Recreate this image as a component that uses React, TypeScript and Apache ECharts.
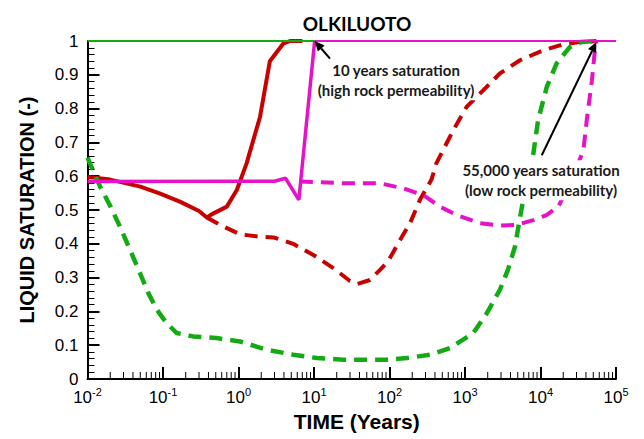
import React, { useEffect, useRef } from "react";
import * as echarts from "echarts";

// Liquid saturation in the buffer versus time (years), Olkiluoto case
const TITLE = "OLKILUOTO";
const X_MIN = 0.01;
const X_MAX = 1e5;
const Y_MIN = 0;
const Y_MAX = 1;
const Y_STEP = 0.1;

// [time (years), liquid saturation (-)]
const fullySaturated: [number, number][] = [
  [0.01, 1.0], [1e5, 1.0],
];

const redSolid: [number, number][] = [
  [0.01, 0.598], [0.02, 0.59], [0.05, 0.569], [0.09, 0.549], [0.17, 0.524],
  [0.3, 0.497], [0.38, 0.478], [0.44, 0.487], [0.7, 0.51], [0.95, 0.559],
  [1.28, 0.638], [1.93, 0.776], [2.6, 0.94], [3.9, 0.992], [4.8, 1.0], [7, 1.0],
];

const redDashed: [number, number][] = [
  [0.38, 0.478], [0.57, 0.456], [1.05, 0.428], [1.93, 0.421], [2.9, 0.419],
  [5.3, 0.4], [9.8, 0.367], [18, 0.328], [30, 0.29], [37, 0.281], [55, 0.293],
  [75, 0.323], [95, 0.347], [138, 0.411], [187, 0.461], [253, 0.53], [360, 0.59],
  [417, 0.638], [700, 0.736], [1050, 0.805], [1740, 0.854], [2900, 0.904],
  [5350, 0.943], [11000, 0.973], [20000, 0.99], [33000, 0.997], [55000, 1.0],
];

const greenDashed: [number, number][] = [
  [0.01, 0.655], [0.0147, 0.569], [0.0202, 0.51], [0.027, 0.45], [0.0366, 0.382],
  [0.0496, 0.313], [0.064, 0.254], [0.083, 0.205], [0.112, 0.165], [0.152, 0.136],
  [0.25, 0.126], [0.51, 0.121], [1.05, 0.111], [2.36, 0.0865], [5.3, 0.072],
  [10.9, 0.062], [24.5, 0.057], [91, 0.057], [170, 0.062], [348, 0.072],
  [635, 0.0915], [1290, 0.136], [1950, 0.195], [2900, 0.264], [3700, 0.323],
  [4600, 0.392], [5100, 0.451], [5900, 0.53], [8040, 0.667], [9300, 0.766],
  [12100, 0.864], [16300, 0.933], [24400, 0.982], [35000, 0.997], [50000, 1.0],
];

const magentaSolid: [number, number][] = [
  [0.01, 0.584], [3.0, 0.585], [4.2, 0.594], [6.3, 0.53], [10.2, 1.0],
];

const magentaSaturated: [number, number][] = [
  [10.2, 1.0], [1e5, 1.0],
];

const magentaDashed: [number, number][] = [
  [6.5, 0.584], [27, 0.579], [75, 0.579], [152, 0.564], [280, 0.544],
  [467, 0.51], [775, 0.485], [1590, 0.461], [2900, 0.454], [4840, 0.456],
  [8040, 0.47], [12000, 0.485], [17200, 0.51], [26000, 0.59], [37000, 0.677],
  [41000, 0.766], [48000, 0.884], [52000, 0.963], [55000, 1.0],
];

// Annotations, in data coordinates
const highPermArrow = { from: [16.3, 0.948], to: [10.2, 1.0] };
const lowPermArrow = { from: [10400, 0.662], to: [55000, 0.997] };
const highPermLabel = { at: [122, 0.884], text: "10 years saturation\n(high rock permeability)" };
const lowPermLabel = { at: [10160, 0.588], text: "55,000 years saturation\n(low rock permeability)" };

const RED = "#c80000";
const GREEN = "#14aa14";
const MAGENTA = "#e512c8";
const AXIS_FONT = "'Liberation Sans', Arial, sans-serif";
const NOTE_FONT = "Lato, 'Open Sans', sans-serif";

// Minor ticks of the log axis at 2..9 × 10^k
const minorTimes: number[] = [];
for (let k = -2; k < 5; k++) {
  for (let m = 2; m <= 9; m++) minorTimes.push(m * Math.pow(10, k));
}

function lineSeries(name: string, data: [number, number][], color: string, width: number, dashed: boolean) {
  return {
    name,
    type: "line",
    data,
    showSymbol: false,
    symbol: "none",
    smooth: false,
    lineStyle: {
      color,
      width,
      type: dashed ? [13, 8] : "solid",
      cap: "butt",
    },
    z: 3,
  };
}

export default function App() {
  const ref = useRef<HTMLDivElement>(null);

  useEffect(() => {
    if (!ref.current) return;
    document.body.style.margin = "0";
    const chart = echarts.init(ref.current, null, { renderer: "svg" });

    const option: any = {
      animation: false,
      backgroundColor: "#ffffff",
      title: {
        text: TITLE,
        left: 352,
        top: 9,
        textAlign: "center",
        textStyle: { fontFamily: NOTE_FONT, fontWeight: "bold", fontSize: 19, color: "#000" },
      },
      grid: { left: 87.5, right: 28, top: 41, bottom: 60 },
      xAxis: {
        type: "log",
        logBase: 10,
        min: X_MIN,
        max: X_MAX,
        splitNumber: 7,
        name: "TIME (Years)",
        nameLocation: "middle",
        nameGap: 30,
        nameTextStyle: { fontFamily: AXIS_FONT, fontWeight: "bold", fontSize: 21, color: "#000", padding: [0, 0, 0, 10] },
        axisLine: { show: true, lineStyle: { color: "#000", width: 2 } },
        axisTick: { show: true, inside: true, length: 12, lineStyle: { color: "#000", width: 2 } },
        splitLine: { show: false },
        axisLabel: {
          margin: 7,
          formatter: (v: number) => `{b|10}{s|${Math.round(Math.log10(v))}}`,
          rich: {
            b: { fontFamily: AXIS_FONT, fontSize: 17, color: "#000", lineHeight: 20, verticalAlign: "bottom" },
            s: { fontFamily: AXIS_FONT, fontSize: 11, color: "#000", lineHeight: 20, verticalAlign: "top" },
          },
        },
      },
      yAxis: {
        type: "value",
        min: Y_MIN,
        max: Y_MAX,
        interval: Y_STEP,
        name: "LIQUID SATURATION (-)",
        nameLocation: "middle",
        nameGap: 51,
        nameTextStyle: { fontFamily: AXIS_FONT, fontWeight: "bold", fontSize: 20, color: "#000" },
        axisLine: { show: true, lineStyle: { color: "#000", width: 2 } },
        axisTick: { show: true, inside: true, length: 12, lineStyle: { color: "#000", width: 2 } },
        minorTick: { show: true, splitNumber: 5, length: 7, lineStyle: { color: "#000", width: 1 } },
        splitLine: { show: false },
        minorSplitLine: { show: false },
        axisLabel: {
          margin: 9,
          fontFamily: AXIS_FONT,
          fontSize: 17,
          color: "#000",
          formatter: (v: number) => String(Math.round(v * 10) / 10),
        },
      },
      series: [
        {
          type: "custom",
          silent: true,
          clip: false,
          data: minorTimes.map((t) => [t, 0]),
          encode: { x: 0, y: 1 },
          renderItem: (_p: any, api: any) => {
            const p = api.coord([api.value(0), 0]);
            return {
              type: "line",
              shape: { x1: p[0], y1: p[1], x2: p[0], y2: p[1] - 7 },
              style: { stroke: "#000", lineWidth: 1 },
            };
          },
          z: 1,
        },
        lineSeries("Red, solid", redSolid, RED, 4, false),
        lineSeries("Red, dashed", redDashed, RED, 4, true),
        lineSeries("Green, dashed", greenDashed, GREEN, 4.5, true),
        lineSeries("Magenta, dashed", magentaDashed, MAGENTA, 4, true),
        lineSeries("Green, solid", fullySaturated, GREEN, 2, false),
        lineSeries("Magenta, solid", magentaSolid, MAGENTA, 3.5, false),
        lineSeries("Magenta, saturated", magentaSaturated, MAGENTA, 2, false),
      ],
    };

    chart.setOption(option);

    const px = (p: number[]) => chart.convertToPixel({ gridIndex: 0 }, p) as number[];

    const arrow = (a: { from: number[]; to: number[] }) => {
      const f = px(a.from);
      const t = px(a.to);
      const dx = t[0] - f[0];
      const dy = t[1] - f[1];
      const len = Math.hypot(dx, dy);
      const ux = dx / len;
      const uy = dy / len;
      const head = 10;
      const half = 4.5;
      const bx = t[0] - ux * head;
      const by = t[1] - uy * head;
      return [
        {
          type: "line",
          shape: { x1: f[0], y1: f[1], x2: bx, y2: by },
          style: { stroke: "#000", lineWidth: 2 },
          z: 10,
        },
        {
          type: "polygon",
          shape: {
            points: [
              [t[0], t[1]],
              [bx - uy * half, by + ux * half],
              [bx + uy * half, by - ux * half],
            ],
          },
          style: { fill: "#000" },
          z: 10,
        },
      ];
    };

    const label = (l: { at: number[]; text: string }) => {
      const p = px(l.at);
      return {
        type: "text",
        x: p[0],
        y: p[1],
        z: 9,
        style: {
          text: l.text,
          fontFamily: NOTE_FONT,
          fontWeight: "bold",
          fontSize: 15,
          lineHeight: 20,
          fill: "#1a1a1a",
          align: "center",
          verticalAlign: "middle",
          textAlign: "center",
          textVerticalAlign: "middle",
          backgroundColor: "#ffffff",
          padding: [0, 2],
        },
      };
    };

    chart.setOption({
      graphic: [
        label(highPermLabel),
        label(lowPermLabel),
        ...arrow(highPermArrow),
        ...arrow(lowPermArrow),
      ],
    });

    return () => chart.dispose();
  }, []);

  return <div ref={ref} style={{ width: 644, height: 439 }} />;
}
